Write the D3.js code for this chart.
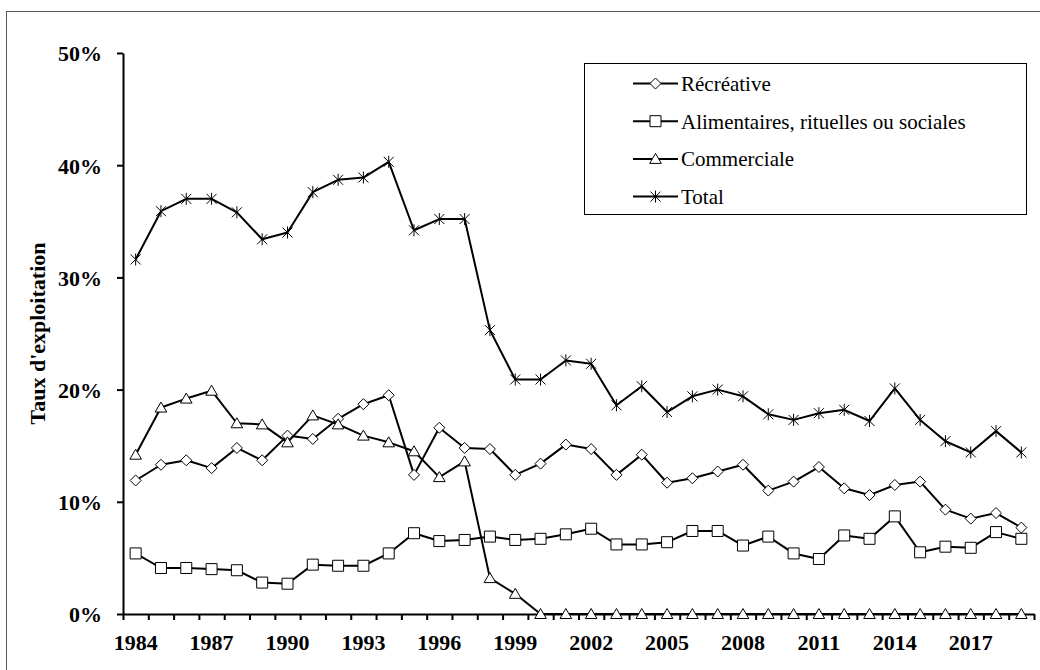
<!DOCTYPE html>
<html lang="fr">
<head>
<meta charset="UTF-8">
<title>Taux d'exploitation</title>
<script src="https://d3js.org/d3.v7.min.js"></script>
<style>
  body { margin: 0; background: #fff; }
  svg { font-family: "Liberation Serif", "Times New Roman", serif; }
  .tick-label { font-size: 22px; font-weight: bold; }
  .axis-title { font-size: 22px; font-weight: bold; }
  .legend-text { font-size: 21px; }
</style>
</head>
<body>
<div id="chart"></div>
<script>
const years = d3.range(1984, 2020);
const tickYears = [1984, 1987, 1990, 1993, 1996, 1999, 2002, 2005, 2008, 2011, 2014, 2017];
const yTicks = [0, 0.1, 0.2, 0.3, 0.4, 0.5];

const recreative = [11.9, 13.3, 13.7, 13.0, 14.8, 13.7, 15.9, 15.6, 17.4, 18.7, 19.5, 12.4,
  16.6, 14.8, 14.7, 12.4, 13.4, 15.1, 14.7, 12.4, 14.2, 11.7, 12.1, 12.7,
  13.3, 11.0, 11.8, 13.1, 11.2, 10.6, 11.5, 11.8, 9.3, 8.5, 9.0, 7.7];
const alimentaires = [5.4, 4.1, 4.1, 4.0, 3.9, 2.8, 2.7, 4.4, 4.3, 4.3, 5.4, 7.2,
  6.5, 6.6, 6.9, 6.6, 6.7, 7.1, 7.6, 6.2, 6.2, 6.4, 7.4, 7.4,
  6.1, 6.9, 5.4, 4.9, 7.0, 6.7, 8.7, 5.5, 6.0, 5.9, 7.3, 6.7];
const commerciale = [14.2, 18.4, 19.2, 19.9, 17.0, 16.9, 15.3, 17.7, 16.9, 15.9, 15.3, 14.5,
  12.2, 13.6, 3.2, 1.8, 0, 0, 0, 0, 0, 0, 0, 0,
  0, 0, 0, 0, 0, 0, 0, 0, 0, 0, 0, 0];
const total = [31.6, 35.9, 37.0, 37.0, 35.8, 33.4, 34.0, 37.6, 38.7, 38.9, 40.3, 34.2,
  35.2, 35.2, 25.3, 20.9, 20.9, 22.6, 22.3, 18.6, 20.3, 18.0, 19.4, 20.0,
  19.4, 17.8, 17.3, 17.9, 18.2, 17.2, 20.1, 17.3, 15.4, 14.4, 16.3, 14.4];

const seriesNames = ["Récréative", "Alimentaires, rituelles ou sociales", "Commerciale", "Total"];
const seriesValues = [recreative, alimentaires, commerciale, total];
const markerTypes = ["diamond", "square", "triangle", "star"];

const width = 1040, height = 670;
const plot = {left: 123, right: 1034, top: 53, bottom: 614};

const svg = d3.select("#chart").append("svg")
  .attr("width", width).attr("height", height);

// outer frame (runs past the right and bottom edges)
svg.append("rect")
  .attr("x", 6.5).attr("y", 11.5)
  .attr("width", 1100).attr("height", 700)
  .attr("fill", "none").attr("stroke", "#595959").attr("stroke-width", 1);

const x = d3.scaleBand().domain(years).range([plot.left, plot.right]);
const xEdge = d3.scaleLinear().domain([0, years.length]).range([plot.left, plot.right]);
const y = d3.scaleLinear().domain([0, 0.5]).range([plot.bottom, plot.top]);

// y axis
const yAxis = svg.append("g")
  .attr("transform", `translate(${plot.left},0)`)
  .call(d3.axisLeft(y).tickValues(yTicks).tickSize(6).tickSizeOuter(0).tickFormat(d3.format(".0%")))
  .attr("font-family", null).attr("font-size", null);
yAxis.select(".domain").attr("stroke-width", 2);
yAxis.selectAll(".tick line").attr("stroke-width", 2);
yAxis.selectAll(".tick text").attr("class", "tick-label").attr("x", -21).attr("dy", "0.36em")
  .attr("fill", "#000");

// x axis: tick marks between categories
const xAxis = svg.append("g")
  .attr("transform", `translate(0,${plot.bottom})`)
  .call(d3.axisBottom(xEdge).tickValues(d3.range(0, years.length + 1)).tickSize(6).tickSizeOuter(0).tickFormat(""));
xAxis.select(".domain").attr("stroke-width", 2);
xAxis.selectAll(".tick line").attr("stroke-width", 2);

svg.append("g").selectAll("text")
  .data(tickYears)
  .join("text")
  .attr("class", "tick-label")
  .attr("x", d => x(d) + x.bandwidth() / 2)
  .attr("y", 650)
  .attr("text-anchor", "middle")
  .text(d => d);

svg.append("text")
  .attr("class", "axis-title")
  .attr("transform", `translate(45,${(plot.top + plot.bottom) / 2}) rotate(-90)`)
  .attr("text-anchor", "middle")
  .text("Taux d'exploitation");

function markerPath(type) {
  if (type === "diamond") return "M0,-5.5L5.5,0L0,5.5L-5.5,0Z";
  if (type === "square") return "M-5.5,-5.5H5.5V5.5H-5.5Z";
  if (type === "triangle") return "M0,-5.5L5.8,4.5H-5.8Z";
  return "M-5,-5L5,5M-5,5L5,-5M0,-6V6";
}

const line = d3.line()
  .x((d, i) => x(years[i]) + x.bandwidth() / 2)
  .y(d => y(d / 100));

seriesValues.forEach((vals, s) => {
  const g = svg.append("g");
  g.append("path")
    .attr("d", line(vals))
    .attr("fill", "none").attr("stroke", "#000").attr("stroke-width", 2)
    .attr("stroke-linejoin", "round");
  g.selectAll("path.mk")
    .data(vals)
    .join("path")
    .attr("class", "mk")
    .attr("transform", (d, i) => `translate(${x(years[i]) + x.bandwidth() / 2},${y(d / 100)})`)
    .attr("d", markerPath(markerTypes[s]))
    .attr("fill", markerTypes[s] === "star" ? "none" : "#fff")
    .attr("stroke", "#000").attr("stroke-width", 1);
});

// legend
const legend = svg.append("g");
legend.append("rect")
  .attr("x", 584.5).attr("y", 63.5).attr("width", 442).attr("height", 151)
  .attr("fill", "#fff").attr("stroke", "#000").attr("stroke-width", 1);

seriesNames.forEach((name, i) => {
  const ly = 83.5 + i * 37.7;
  legend.append("line")
    .attr("x1", 633).attr("x2", 678).attr("y1", ly).attr("y2", ly)
    .attr("stroke", "#000").attr("stroke-width", 2);
  legend.append("path")
    .attr("transform", `translate(655.5,${ly})`)
    .attr("d", markerPath(markerTypes[i]))
    .attr("fill", markerTypes[i] === "star" ? "none" : "#fff")
    .attr("stroke", "#000").attr("stroke-width", 1);
  legend.append("text")
    .attr("class", "legend-text")
    .attr("x", 681).attr("y", ly).attr("dy", "0.35em")
    .text(name);
});
</script>
</body>
</html>
